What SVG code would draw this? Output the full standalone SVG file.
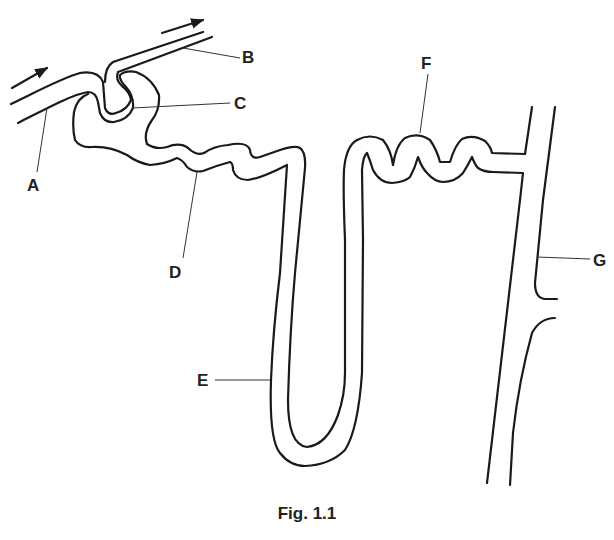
<svg xmlns="http://www.w3.org/2000/svg" width="614" height="540" viewBox="0 0 614 540">
<style>
.t{fill:none;stroke:#1a1a1a;stroke-width:2.2;stroke-linecap:round;stroke-linejoin:round}
.l{fill:none;stroke:#333;stroke-width:1}
.lab{font-family:"Liberation Sans",Arial,sans-serif;font-weight:bold;font-size:17px;fill:#222}
</style>
<defs><marker id="ah" viewBox="0 0 10 10" refX="9" refY="5" markerWidth="6" markerHeight="6" orient="auto"><path d="M0,1 L10,5 L0,9 Z" fill="#1a1a1a"/></marker></defs>
<rect width="614" height="540" fill="#fff"/>
<g id="arrows">
<line class="t" x1="12" y1="88" x2="47" y2="68" marker-end="url(#ah)"/>
<line class="t" x1="162" y1="33" x2="203" y2="20" marker-end="url(#ah)"/>
</g>
<g id="tubule">
<path class="t" d="M11,104 C40,90 62,78 80,73 Q98,70 103,82 L105,108 Q108,116 116,113 Q127,110 131,100 Q130,92 122,86 Q115,80 118,72 L212,37"/>
<path class="t" d="M203,32 L113,62 Q105,67 105,82"/>
<path class="t" d="M18,123 C40,112 70,95 88,92 Q96,92 98,102 L100,113 Q104,123 114,122 Q128,120 133,108 Q134,96 126,87 Q119,80 120,75 Q126,70 136,72 Q152,78 159,95 Q160,110 152,120 Q143,133 147,144 Q156,150 167,147 Q180,142 188,148 Q196,156 204,153 Q214,146 228,145 Q247,141 250,150 Q251,160 260,157 L280,150 Q295,145 300,148 Q306,152 305,168 L295,273 Q290,330 288,400 Q288,445 307,447 Q327,445 338,415 Q345,395 345,373 L345,240 Q343,190 344,170 Q346,146 357,140 Q370,133 383,140 Q391,150 393,165 Q396,145 405,138 Q418,132 430,140 Q437,150 440,162 L450,162 Q455,145 462,139 Q473,134 485,141 Q491,147 492,153 L525,154 L532,107"/>
<path class="t" d="M88,94 Q77,98 74,112 Q72,128 75,140 Q80,148 92,147 Q110,146 127,155 Q138,163 150,165 Q165,164 177,158 Q183,160 187,167 Q194,173 203,171 Q215,166 230,162 Q233,163 233,170 Q236,180 248,180 Q262,178 287,165 L280,273 Q273,330 271,380 Q269,440 280,453 Q290,466 305,466 Q330,465 345,450 Q358,430 362,373 L363,240 L362,170 Q363,156 367,153 Q370,160 373,170 Q380,183 392,183 Q405,182 410,177 Q415,168 418,157 Q422,168 427,173 Q435,182 443,182 Q455,182 463,173 Q468,165 472,157 Q475,165 478,168 Q484,172 493,172 L523,173 L520,200 L487,483"/>
<path class="t" d="M555,107 L543,200 L535,283 Q535,298 545,299 L557,299"/>
<path class="t" d="M555,318 Q540,318 532,333 Q519,380 513,433 L510,485"/>
</g>
<g id="labels">
<line class="l" x1="47" y1="108" x2="37" y2="172"/>
<text class="lab" x="27" y="191">A</text>
<line class="l" x1="183" y1="48" x2="240" y2="58"/>
<text class="lab" x="242" y="63">B</text>
<line class="l" x1="132" y1="108" x2="230" y2="103"/>
<text class="lab" x="234" y="109">C</text>
<line class="l" x1="197" y1="172" x2="183" y2="258"/>
<text class="lab" x="169" y="278">D</text>
<line class="l" x1="215" y1="380" x2="270" y2="380"/>
<text class="lab" x="197" y="386">E</text>
<line class="l" x1="428" y1="74" x2="420" y2="133"/>
<text class="lab" x="421" y="69">F</text>
<line class="l" x1="537" y1="257" x2="590" y2="259"/>
<text class="lab" x="593" y="266">G</text>
<text class="lab" x="307" y="519" text-anchor="middle">Fig. 1.1</text>
</g>
</svg>
